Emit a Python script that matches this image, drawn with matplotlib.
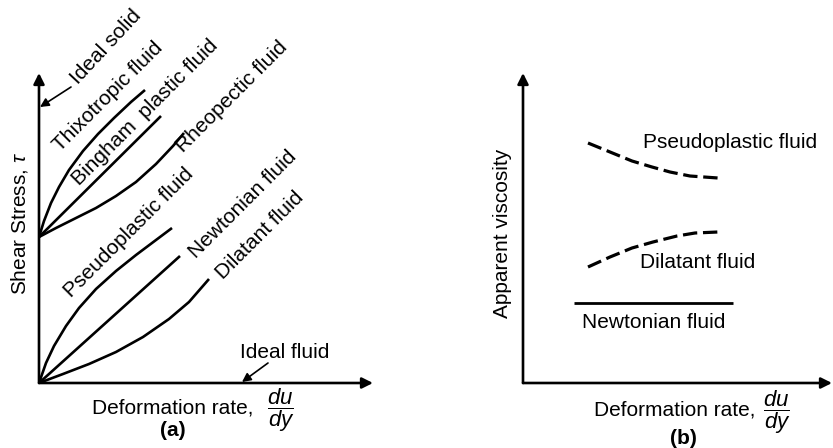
import numpy as np
import matplotlib.pyplot as plt

plt.rcParams['font.family'] = ['Liberation Sans', 'DejaVu Sans']
plt.rcParams['mathtext.fontset'] = 'custom'
plt.rcParams['mathtext.it'] = 'Liberation Sans:italic'
plt.rcParams['mathtext.rm'] = 'Liberation Sans'

# (a) shear stress vs deformation rate
thixo_x = [0, 5, 12, 20, 30, 44, 59, 75, 92, 106]
thixo_y = [146, 162, 180, 196, 213, 232, 249, 265, 281, 293]
bingham_x = [0, 122]
bingham_y = [146, 267]
rheo_x = [0, 17, 37, 57, 77, 97, 117, 134, 145]
rheo_y = [146, 155, 165, 175, 187, 201, 219, 237, 250]
pseudo_x = [0, 7, 15, 27, 40, 57, 77, 97, 117, 133]
pseudo_y = [0, 20, 37, 57, 75, 94, 112, 128, 143, 155]
newt_x = [0, 141]
newt_y = [0, 127]
dil_x = [0, 24, 50, 77, 104, 130, 150, 170]
dil_y = [0, 9, 19, 31, 46, 64, 81, 104]

# (b) apparent viscosity vs deformation rate
pseudo_b_x = [65, 87, 109, 129, 147, 167, 195]
pseudo_b_y = [240, 231, 222, 216, 211, 207, 205]
dil_b_x = [65, 87, 109, 130, 154, 172, 195]
dil_b_y = [116, 126, 135, 141, 147, 150, 151]
newt_b_x = [51, 210]
newt_b_y = [80, 80]

W, H = 833, 448
fig = plt.figure(figsize=(W / 100, H / 100), dpi=100)
ax_a = fig.add_axes([39 / W, (H - 383) / H, 340 / W, 320 / H])
ax_b = fig.add_axes([523 / W, (H - 383) / H, 310 / W, 320 / H])
ax_a.set_xlim(0, 340)
ax_a.set_ylim(0, 320)
ax_b.set_xlim(0, 310)
ax_b.set_ylim(0, 320)
for ax in (ax_a, ax_b):
    ax.axis("off")

fs = 15
axis_arrow = dict(arrowstyle="-|>", lw=1.9, color="black", mutation_scale=16,
                  shrinkA=0, shrinkB=0)
small_arrow = dict(arrowstyle="-|>", lw=1.2, color="black", mutation_scale=13,
                   shrinkA=0, shrinkB=0)

# panel (a)
ax_a.annotate("", xy=(334, 0), xytext=(0, 0), arrowprops=axis_arrow)
ax_a.annotate("", xy=(0, 310), xytext=(0, 0), arrowprops=axis_arrow)
lw = 1.9
for xs, ys in [(thixo_x, thixo_y), (bingham_x, bingham_y), (rheo_x, rheo_y),
               (pseudo_x, pseudo_y), (newt_x, newt_y), (dil_x, dil_y)]:
    ax_a.plot(xs, ys, color="black", lw=lw, solid_capstyle="butt",
              solid_joinstyle="round")

ax_a.annotate("", xy=(1, 276), xytext=(32, 296), arrowprops=small_arrow)
ax_a.annotate("", xy=(203, 1), xytext=(229, 20), arrowprops=small_arrow)

ax_a.text(67, 336, "Ideal solid", rotation=47, ha="center", va="center", fontsize=fs)
ax_a.text(69, 286, "Thixotropic fluid", rotation=45, ha="center", va="center", fontsize=fs)
ax_a.text(106, 271, "Bingham  plastic fluid", rotation=45, ha="center", va="center", fontsize=fs)
ax_a.text(193, 286, "Rheopectic fluid", rotation=45, ha="center", va="center", fontsize=fs)
ax_a.text(90, 150, "Pseudoplastic fluid", rotation=45, ha="center", va="center", fontsize=fs)
ax_a.text(204, 179, "Newtonian fluid", rotation=45, ha="center", va="center", fontsize=fs)
ax_a.text(221, 148, "Dilatant fluid", rotation=45, ha="center", va="center", fontsize=fs)
ax_a.text(246, 31, "Ideal fluid", ha="center", va="center", fontsize=fs)

ax_a.text(-19, 160, r"Shear Stress, $\tau$", rotation=90, ha="center", va="center", fontsize=fs)
ax_a.text(53, -25, "Deformation rate,", ha="left", va="center", fontsize=fs)
ax_a.text(242, -27, r"$\dfrac{du}{dy}$", ha="center", va="center", fontsize=fs + 1)
ax_a.text(134, -47, "(a)", ha="center", va="center", fontsize=fs, fontweight="bold")

# panel (b)
ax_b.annotate("", xy=(309, 0), xytext=(0, 0), arrowprops=axis_arrow)
ax_b.annotate("", xy=(0, 310), xytext=(0, 0), arrowprops=axis_arrow)
ax_b.plot(pseudo_b_x, pseudo_b_y, color="black", lw=2.3, linestyle=(0, (4.5, 1.8)))
ax_b.plot(dil_b_x, dil_b_y, color="black", lw=2.3, linestyle=(0, (4.5, 1.8)))
ax_b.plot(newt_b_x, newt_b_y, color="black", lw=2.0, solid_capstyle="butt")

ax_b.text(120, 240, "Pseudoplastic fluid", ha="left", va="center", fontsize=fs)
ax_b.text(117, 120, "Dilatant fluid", ha="left", va="center", fontsize=fs)
ax_b.text(59, 61, "Newtonian fluid", ha="left", va="center", fontsize=fs)

ax_b.text(-20, 150, "Apparent viscosity", rotation=90, ha="center", va="center", fontsize=fs)
ax_b.text(71, -27, "Deformation rate,", ha="left", va="center", fontsize=fs)
ax_b.text(254, -29, r"$\dfrac{du}{dy}$", ha="center", va="center", fontsize=fs + 1)
ax_b.text(160, -55, "(b)", ha="center", va="center", fontsize=fs, fontweight="bold")

fig.savefig("out.png", dpi=100)
